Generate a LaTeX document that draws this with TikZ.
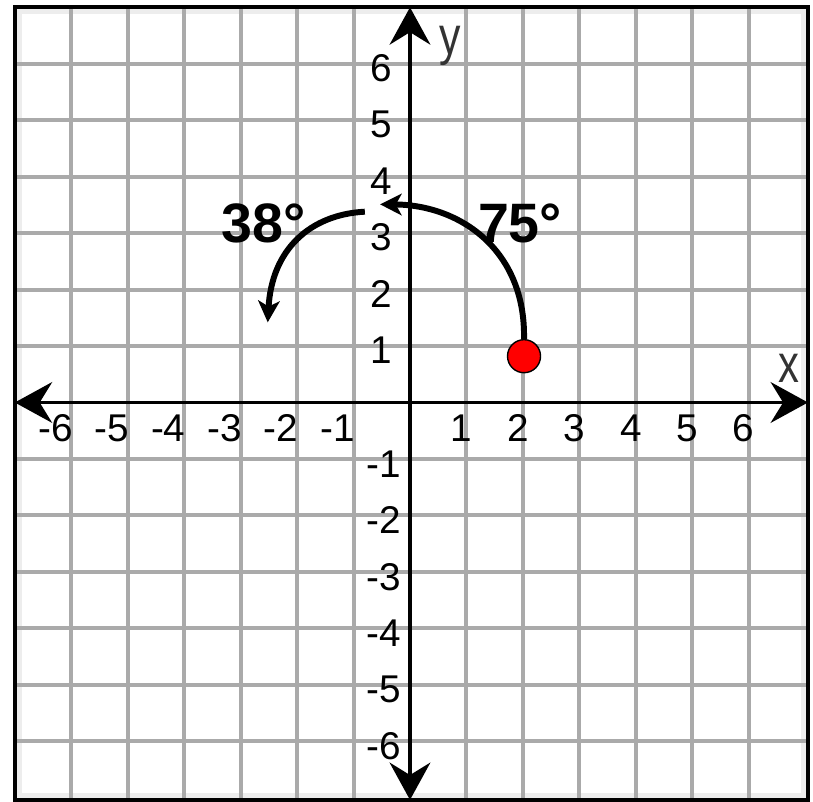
\documentclass[tikz,border=0pt]{standalone}
\usepackage{fontspec}
\setmainfont{Liberation Sans}
\usepackage{graphicx}
\usepackage{tikz}
\usetikzlibrary{arrows.meta}
\definecolor{gridgray}{RGB}{170,170,170}
\pgfdeclarelayer{front}
\pgfsetlayers{main,front}

\begin{document}
\begin{tikzpicture}[
  gridline/.style={gridgray,line width=2pt},
  axis/.style={line width=2pt,<->,>={Stealth[length=.66cm,width=.72cm,inset=.22cm]}},
  turn/.style={line width=3pt,->,>={Stealth[length=.38cm,width=.38cm,inset=.1cm]}},
  tick/.style={inner sep=0pt,font=\fontsize{19.5}{20}\selectfont},
  deg/.style={inner sep=0pt,font=\fontsize{28}{30}\selectfont\bfseries},
  axlabel/.style={inner sep=0pt,text=black!80,font=\fontsize{27}{28}\selectfont},
  dot/.style={circle,draw,line width=.7pt,fill=red,minimum size=.585cm,inner sep=0pt}]
 \useasboundingbox (-7.263,-7.077) rectangle (7.139,7.130);
 % frame and grid
 \draw[black!7,line width=3pt] (-6.93,-6.97) rectangle (6.98,6.93);
 \foreach \k in {-6,...,-1,1,2,...,6} {
   \draw[gridline] (\k,-7.04) -- (\k,7);
   \draw[gridline] (-7,\k) -- (7.05,\k);
 }
 \draw[line width=2pt] (-7,-7.04) rectangle (7.05,7);
 % axes
 \coordinate (xl) at (-7,0);
 \coordinate (xr) at (7.05,0);
 \coordinate (yb) at (0,-7.04);
 \coordinate (yt) at (0,7);
 \draw[axis] (xl) -- (xr);
 \draw[axis] (yb) -- (yt);
 \node[axlabel] (xlab) at (6.71,.61) {\scalebox{.78}[1]{x}};
 \node[axlabel] (ylab) at (.71,6.32) {\scalebox{.8}[1]{y}};
 % numbers
 \foreach \k [count=\i] in {1,...,6} {
   \node[tick,anchor=north east] (xp\i) at (\k+.11,-.21) {\k};
   \node[tick,anchor=east] (yp\i) at (-.31,\k-.08) {\k};
 }
 \foreach \k [count=\i] in {-6,...,-1} {
   \node[tick,anchor=north east] (xn\i) at (\k+.03,-.21) {\k};
   \node[tick,anchor=east] (yn\i) at (-.15,\k-.09) {\k};
 }
 % the two turns
 \begin{pgfonlayer}{front}
   \node[dot] (pt) at (2.02,.82) {};
 \end{pgfonlayer}
 \coordinate (tip1) at (-.53,3.51);
 \coordinate (s2) at (-.80,3.38);
 \coordinate (tip2) at (-2.52,1.42);
 \draw[turn] (pt.north) .. controls (2.05,2.70) and (.89,3.50) .. (tip1);
 \draw[turn] (s2) .. controls (-1.77,3.33) and (-2.45,2.71) .. (tip2);
 \node[deg] (a38) at (-2.59,3.18) {38°};
 \node[deg] (a75) at (1.95,3.18) {75°};
\end{tikzpicture}
\end{document}
